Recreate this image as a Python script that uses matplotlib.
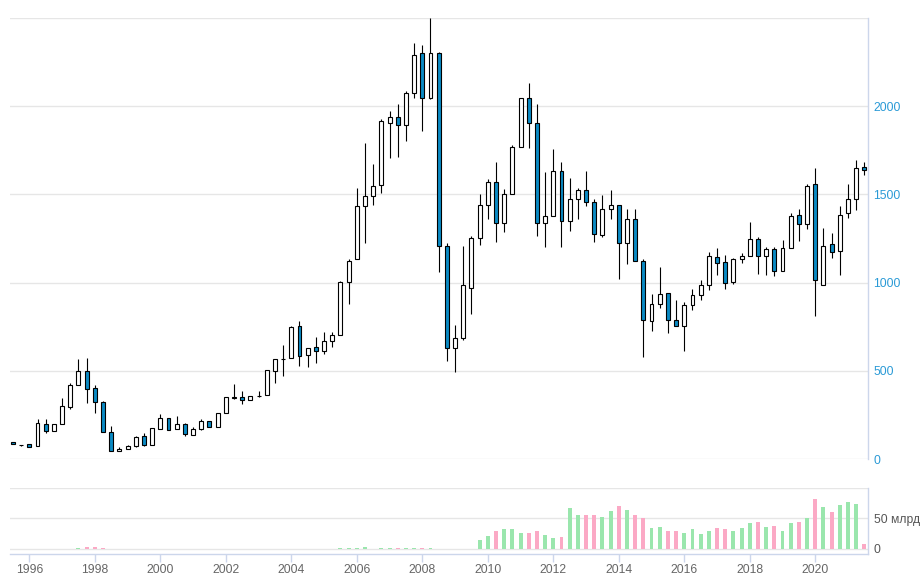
import matplotlib

matplotlib.use("Agg")

import matplotlib.pyplot as plt
import numpy as np
import pandas as pd


# Quarterly candles, 1995 Q3 .. 2021 Q3
QUARTERS = pd.period_range("1995Q3", "2021Q3", freq="Q")

OPENS = [
    98, 81, 83, 76, 197, 161, 197, 295, 419, 498, 401, 322, 152, 44, 55, 76, 129, 81,
    169, 231, 169, 197, 134, 169, 216, 180, 259, 345, 350, 333, 357, 362, 498, 566,
    572, 752, 589, 634, 612, 669, 703, 1002, 1131, 1436, 1491, 1551, 1907, 1936, 1896,
    2072, 2299, 2049, 2299, 1206, 629, 684, 970, 1252, 1439, 1570, 1339, 1504, 1771,
    2044, 1907, 1339, 1377, 1633, 1352, 1475, 1525, 1457, 1271, 1419, 1441, 1225, 1362,
    1123, 782, 879, 941, 790, 756, 871, 930, 987, 1146, 1116, 1002, 1134, 1153, 1248,
    1153, 1191, 1066, 1197, 1384, 1333, 1557, 985, 1220, 1180, 1396, 1475, 1657,
]
HIGHS = [
    98, 81, 87, 227, 227, 197, 345, 430, 568, 572, 419, 328, 189, 70, 81, 131, 148, 174,
    256, 231, 242, 206, 184, 227, 216, 259, 350, 426, 388, 358, 388, 504, 566, 648,
    755, 784, 629, 691, 722, 722, 1008, 1134, 1534, 1794, 1671, 1926, 1970, 2010, 2089,
    2358, 2347, 2500, 2305, 1225, 761, 1205, 1267, 1504, 1589, 1686, 1528, 1778, 2044,
    2134, 2010, 1629, 1760, 1686, 1595, 1538, 1633, 1472, 1494, 1523, 1441, 1420, 1415,
    1131, 936, 1089, 941, 903, 890, 966, 1017, 1172, 1197, 1159, 1140, 1169, 1341, 1260,
    1203, 1203, 1244, 1396, 1415, 1557, 1652, 1307, 1282, 1434, 1557, 1695, 1684,
]
LOWS = [
    83, 72, 70, 76, 150, 161, 197, 286, 419, 320, 263, 152, 44, 44, 55, 70, 76, 81,
    169, 165, 169, 133, 134, 163, 180, 180, 259, 339, 309, 333, 350, 362, 430, 472,
    572, 530, 519, 547, 595, 633, 703, 879, 1131, 1224, 1439, 1510, 1707, 1712, 1803,
    2044, 1860, 2038, 1059, 553, 496, 676, 822, 1212, 1360, 1229, 1286, 1504, 1771,
    1762, 1263, 1201, 1377, 1201, 1292, 1359, 1434, 1229, 1260, 1362, 1021, 1106, 1123,
    581, 724, 856, 714, 756, 610, 843, 900, 960, 1045, 964, 991, 1112, 1153, 1047,
    1042, 1036, 1066, 1197, 1235, 1305, 809, 985, 1140, 1042, 1367, 1411, 1610,
]
CLOSES = [
    83, 80, 70, 203, 161, 197, 299, 419, 498, 396, 322, 152, 44, 55, 76, 125, 81, 174,
    231, 165, 197, 140, 169, 216, 180, 259, 350, 352, 333, 358, 359, 504, 566, 568,
    748, 585, 629, 612, 667, 703, 1002, 1121, 1434, 1491, 1547, 1917, 1936, 1896, 2072,
    2288, 2049, 2299, 1206, 629, 684, 985, 1252, 1439, 1570, 1339, 1504, 1771, 2044,
    1907, 1339, 1377, 1633, 1352, 1475, 1525, 1458, 1273, 1419, 1441, 1225, 1362, 1123,
    790, 879, 936, 790, 756, 871, 930, 987, 1150, 1112, 998, 1134, 1153, 1248, 1153,
    1191, 1066, 1197, 1379, 1333, 1547, 1015, 1210, 1174, 1384, 1475, 1652, 1640,
]
# Traded volume, billions (None = no data)
VOLUMES = (
    [None] * 8
    + [1.5, 3, 3, 1.5]
    + [None] * 28
    + [1.5, 1.5, 1.5, 3, None, 1.5, 1.5, 1.5, 1.5, 1.5, 1.5, 1.5]
    + [None] * 5
    + [15.2, 21.9, 28.7, 32, 32, 27, 27, 30.3, 23.6, 18.5, 20.2, 67.4,
       55.6, 55.6, 55.6, 52.2, 62.4, 70.8, 64, 55.6, 50.6, 33.7, 35.4, 28.7,
       30.3, 27, 32, 25.3, 30.3, 33.7, 32, 30.3, 33.7, 42.1, 43.8, 35.4,
       37.1, 30.3, 42.1, 43.8, 50.6, 82.6, 69.1, 60.7, 72.5, 77.5, 74.2, 8.4]
)
YEAR_TICKS = list(range(1996, 2022, 2))

COR_QUEDA = "#0a8ac4"
COR_VOL_ALTA = "#9ae6ad"
COR_VOL_QUEDA = "#fba9c5"
COR_GRADE = "#e6e6e6"
COR_EIXO = "#ccd6eb"

W, H = 922, 577


def posicoes() -> np.ndarray:
    return np.array([q.year + (q.quarter - 1) / 4 for q in QUARTERS])


def grafico_velas(ax, x) -> None:
    o = np.array(OPENS, float)
    h = np.array(HIGHS, float)
    l = np.array(LOWS, float)
    c = np.array(CLOSES, float)
    queda = c < o
    ax.vlines(x, l, h, color="black", linewidth=0.8, zorder=2)
    ax.bar(x, np.abs(c - o), bottom=np.minimum(o, c), width=0.12,
           color=np.where(queda, COR_QUEDA, "white"), edgecolor="black",
           linewidth=0.8, zorder=3)

    ax.set_xlim(1995.41, 2021.61)
    ax.set_ylim(0, 2500)
    ax.set_yticks(range(0, 2501, 500))
    ax.set_yticklabels(["0", "500", "1000", "1500", "2000", ""])
    ax.yaxis.tick_right()
    ax.tick_params(axis="y", length=0, pad=4, labelsize=8.7, labelcolor="#2a9ad6")
    ax.tick_params(axis="x", bottom=False, labelbottom=False)
    ax.grid(True, axis="y", color=COR_GRADE, linewidth=1, zorder=0)
    for lado in ["top", "left", "bottom"]:
        ax.spines[lado].set_visible(False)
    ax.spines["right"].set_color(COR_EIXO)
    ax.spines["right"].set_linewidth(1)


def grafico_volume(ax, x) -> None:
    vol = np.array([np.nan if v is None else v for v in VOLUMES], float)
    queda = np.array(CLOSES) < np.array(OPENS)
    ok = ~np.isnan(vol)
    ax.bar(x[ok], vol[ok], width=0.12,
           color=np.where(queda[ok], COR_VOL_QUEDA, COR_VOL_ALTA), zorder=3)

    ax.set_xlim(1995.41, 2021.61)
    ax.set_ylim(-8.2, 100)
    ax.set_yticks([0, 50, 100])
    ax.set_yticklabels(["0", "50 млрд", ""])
    ax.yaxis.tick_right()
    ax.tick_params(axis="y", length=0, pad=4, labelsize=8.7, labelcolor="#555555")
    ax.grid(True, axis="y", color=COR_GRADE, linewidth=1, zorder=0)
    ax.set_xticks(YEAR_TICKS)
    ax.set_xticklabels([str(a) for a in YEAR_TICKS])
    ax.tick_params(axis="x", length=5.5, width=1, color=COR_EIXO, pad=2,
                   labelsize=8.7, labelcolor="#666666")
    for lado in ["top", "left"]:
        ax.spines[lado].set_visible(False)
    for lado in ["right", "bottom"]:
        ax.spines[lado].set_color(COR_EIXO)
        ax.spines[lado].set_linewidth(1)


def main() -> None:
    plt.rcParams["font.family"] = ["Liberation Sans", "DejaVu Sans"]
    fig = plt.figure(figsize=(W / 100, H / 100), dpi=100)
    x = posicoes()

    esq, dir_ = 10 / W, 868 / W
    ax_velas = fig.add_axes([esq, (H - 459) / H, dir_ - esq, (459 - 18) / H])
    ax_vol = fig.add_axes([esq, (H - 554) / H, dir_ - esq, (554 - 488) / H])

    grafico_velas(ax_velas, x)
    grafico_volume(ax_vol, x)

    fig.savefig("out.png", dpi=100)
    plt.close(fig)


if __name__ == "__main__":
    main()
